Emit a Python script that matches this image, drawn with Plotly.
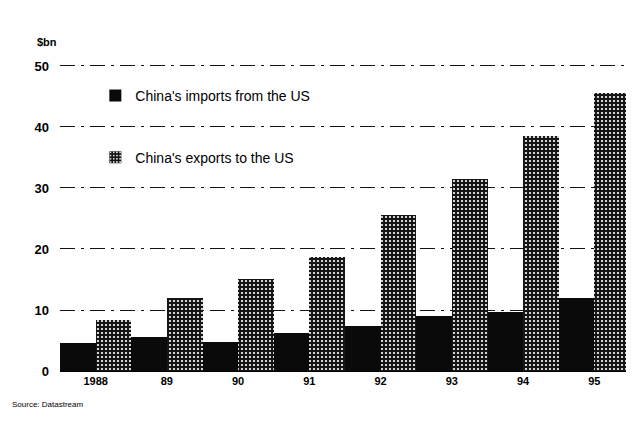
import plotly.graph_objects as go

years = ["1988", "89", "90", "91", "92", "93", "94", "95"]
imports_from_us = [4.6, 5.6, 4.7, 6.2, 7.4, 9.0, 9.6, 12.0]
exports_to_us = [8.4, 12.0, 15.1, 18.7, 25.6, 31.4, 38.6, 45.5]
y_ticks = [0, 10, 20, 30, 40, 50]

FONT = "Liberation Sans, Arial, sans-serif"

fig = go.Figure()
fig.add_trace(go.Bar(
    x=years, y=imports_from_us, name="China's imports from the US",
    marker=dict(color="#0a0a0a", line=dict(width=0)),
    legend="legend",
))
fig.add_trace(go.Bar(
    x=years, y=exports_to_us, name="China's exports to the US",
    marker=dict(color="#1a1a1a", line=dict(width=0),
                pattern=dict(shape=".", bgcolor="#151515", fgcolor="#ffffff",
                             size=4, solidity=0.24, fillmode="replace")),
    legend="legend2",
))

# page body has an 8px margin; compensate so the plot lands where the reference has it
fig.update_layout(
    width=626, height=419,
    paper_bgcolor="white", plot_bgcolor="white",
    margin=dict(l=52, r=4, t=47, b=56),
    showlegend=True,
    barmode="group", bargap=0, bargroupgap=0,
    font=dict(family=FONT, color="black"),
    legend=dict(x=0.062, y=0.921, xanchor="left", yanchor="top",
                bgcolor="rgba(0,0,0,0)", font=dict(size=14, family=FONT)),
    legend2=dict(x=0.062, y=0.726, xanchor="left", yanchor="top",
                 bgcolor="rgba(0,0,0,0)", font=dict(size=14, family=FONT)),
    xaxis=dict(
        range=[-0.5, 7.5], showgrid=False, showline=True, linecolor="black",
        linewidth=1, ticks="", tickfont=dict(size=11, family=FONT, weight="bold"),
        fixedrange=True,
    ),
    yaxis=dict(
        range=[0, 51.8], tickvals=y_ticks, showgrid=True, gridcolor="#111111",
        gridwidth=1.3, griddash="longdashdot", zeroline=False, showline=False,
        tickfont=dict(size=13, family=FONT, weight="bold"),
        ticklabelstandoff=10,
    ),
    annotations=[
        dict(text="$bn", x=-0.022, y=1.04, xref="paper", yref="paper",
             showarrow=False, xanchor="center", yanchor="middle",
             font=dict(size=11, family=FONT, weight="bold")),
        dict(text="Source: Datastream", x=-0.088, y=-0.107, xref="paper", yref="paper",
             showarrow=False, xanchor="left", yanchor="middle",
             font=dict(size=8, family=FONT)),
    ],
)

fig.write_html("out.html")
